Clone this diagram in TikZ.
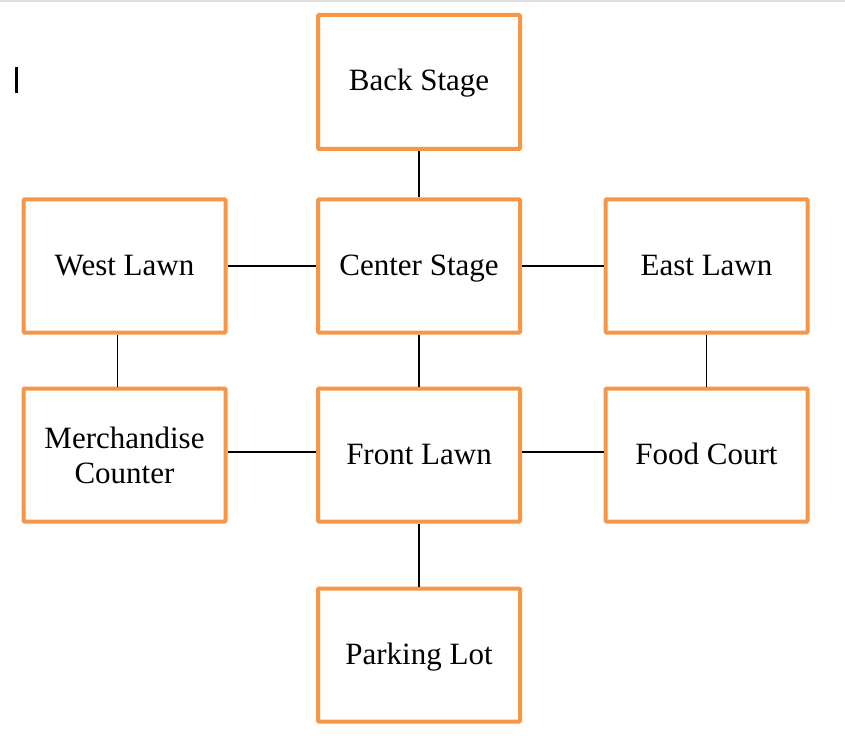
\documentclass[tikz,border=0pt]{standalone}
\usepackage{fontspec}
\setmainfont{Liberation Serif}
\definecolor{boxorange}{HTML}{F79646}
\begin{document}
\begin{tikzpicture}[x=1pt,y=-1pt,
  room/.style={draw=boxorange,line width=4pt,rounded corners=1pt,fill=white,
    minimum width=202pt,minimum height=133pt,inner sep=0pt,align=center,
    font=\fontsize{31}{35}\selectfont},
  oneline/.style={text height=23pt,text depth=5pt},
  link/.style={draw=black,line width=1.3pt}]
\useasboundingbox (0,0) rectangle (845,743);
\fill[white] (0,0) rectangle (845,743);
\draw[gray!25,line width=2pt] (0,1) -- (845,1);
\fill[black] (15,67) rectangle (18,93);
\node[room,oneline,minimum height=134pt] (back) at (419,82) {Back Stage};
\node[room,oneline] (center) at (419,266) {Center Stage};
\node[room,oneline] (west) at (124.5,266) {West Lawn};
\node[room,oneline] (east) at (706.5,266) {East Lawn};
\node[room] (merch) at (124.5,455) {Merchandise\\Counter};
\node[room,oneline] (front) at (419,455) {Front Lawn};
\node[room,oneline] (food) at (706.5,455) {Food Court};
\node[room,oneline] (parking) at (419,655) {Parking Lot};
\draw[link] (back.south) -- (center.north);
\draw[link] (west.east) -- (center.west);
\draw[link] (center.east) -- (east.west);
\draw[link] ([xshift=-7pt]west.south) -- ([xshift=-7pt]merch.north);
\draw[link] (center.south) -- (front.north);
\draw[link] (east.south) -- (food.north);
\draw[link] ([yshift=3pt]merch.east) -- ([yshift=3pt]front.west);
\draw[link] ([yshift=3pt]front.east) -- ([yshift=3pt]food.west);
\draw[link] (front.south) -- (parking.north);
\end{tikzpicture}
\end{document}
